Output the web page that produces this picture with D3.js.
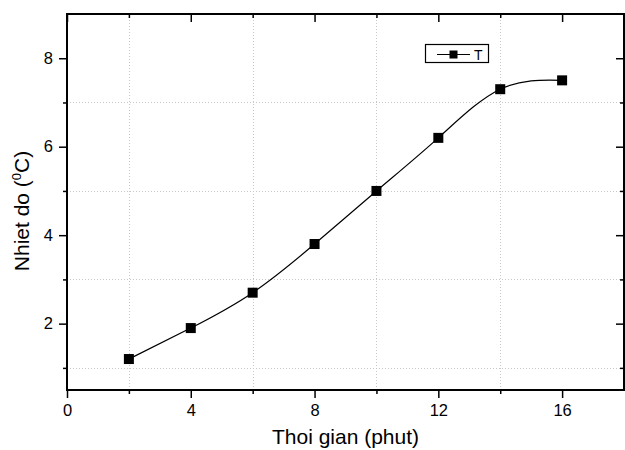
<!DOCTYPE html>
<html>
<head>
<meta charset="utf-8">
<script src="https://cdn.jsdelivr.net/npm/d3@7"></script>
<style>
  html, body { margin: 0; padding: 0; background: #fff; }
  svg { display: block; font-family: "Liberation Sans", Arial, sans-serif; }
</style>
</head>
<body>
<svg id="chart" width="625" height="450"></svg>
<script>
const timeMinutes = [2, 4, 6, 8, 10, 12, 14, 16];
const temperatureT = [1.2, 1.9, 2.7, 3.8, 5.0, 6.2, 7.3, 7.5];
const seriesName = "T";
const xMajorTicks = [0, 4, 8, 12, 16];
const xMinorTicks = [2, 6, 10, 14];
const yMajorTicks = [2, 4, 6, 8];
const yMinorTicks = [1, 3, 5, 7];
const xTitle = "Thoi gian (phut)";

const svg = d3.select("#chart");
const L = 67, R = 624, T = 14, B = 390;
const x = d3.scaleLinear().domain([0, 18]).range([L, R]);
const y = d3.scaleLinear().domain([0.5, 9]).range([B, T]);

// grid (dotted, at minor ticks)
const grid = svg.append("g").attr("stroke", "#c8c8c8").attr("stroke-width", 1).attr("stroke-dasharray", "1,2");
grid.selectAll("line.gx").data(xMinorTicks).join("line")
  .attr("x1", d => Math.round(x(d)) + 0.5).attr("x2", d => Math.round(x(d)) + 0.5)
  .attr("y1", T).attr("y2", B);
grid.selectAll("line.gy").data(yMinorTicks).join("line")
  .attr("y1", d => Math.round(y(d)) + 0.5).attr("y2", d => Math.round(y(d)) + 0.5)
  .attr("x1", L).attr("x2", R);

function styleAxis(g) {
  g.selectAll(".domain").remove();
  g.selectAll(".tick line").attr("stroke", "#000").attr("stroke-width", 1.5);
  g.selectAll(".tick text").attr("fill", "#000").attr("font-size", 16.5)
    .attr("font-family", "'Liberation Sans', Arial, sans-serif");
}

// bottom axis
svg.append("g").attr("transform", `translate(0,${B})`)
  .call(d3.axisBottom(x).tickValues(xMajorTicks).tickSize(8).tickPadding(6).tickFormat(d3.format("d")))
  .call(styleAxis);
svg.append("g").attr("transform", `translate(0,${B})`)
  .call(d3.axisBottom(x).tickValues(xMinorTicks).tickSize(4).tickFormat(""))
  .call(styleAxis);
// top axis (inward)
svg.append("g").attr("transform", `translate(0,${T})`)
  .call(d3.axisBottom(x).tickValues(xMajorTicks).tickSize(8).tickFormat(""))
  .call(styleAxis);
svg.append("g").attr("transform", `translate(0,${T})`)
  .call(d3.axisBottom(x).tickValues(xMinorTicks).tickSize(4).tickFormat(""))
  .call(styleAxis);
// left axis
svg.append("g").attr("transform", `translate(${L},0)`)
  .call(d3.axisLeft(y).tickValues(yMajorTicks).tickSize(8).tickPadding(6).tickFormat(d3.format("d")))
  .call(styleAxis);
svg.append("g").attr("transform", `translate(${L},0)`)
  .call(d3.axisLeft(y).tickValues(yMinorTicks).tickSize(4).tickFormat(""))
  .call(styleAxis);
// right axis (inward)
svg.append("g").attr("transform", `translate(${R},0)`)
  .call(d3.axisLeft(y).tickValues(yMajorTicks).tickSize(8).tickFormat(""))
  .call(styleAxis);
svg.append("g").attr("transform", `translate(${R},0)`)
  .call(d3.axisLeft(y).tickValues(yMinorTicks).tickSize(4).tickFormat(""))
  .call(styleAxis);

// frame
svg.append("rect").attr("x", L).attr("y", T).attr("width", R - L).attr("height", B - T)
  .attr("fill", "none").attr("stroke", "#000").attr("stroke-width", 2);

// line
const pts = timeMinutes.map((t, i) => [t, temperatureT[i]]);
svg.append("path").datum(pts)
  .attr("fill", "none").attr("stroke", "#000").attr("stroke-width", 1.2)
  .attr("d", d3.line().x(d => x(d[0])).y(d => y(d[1])).curve(d3.curveNatural));
const ms = 10;
svg.append("g").selectAll("rect").data(pts).join("rect")
  .attr("x", d => x(d[0]) - ms / 2).attr("y", d => y(d[1]) - ms / 2)
  .attr("width", ms).attr("height", ms).attr("fill", "#000");

// legend
const lg = svg.append("g");
lg.append("rect").attr("x", 425.5).attr("y", 44.5).attr("width", 63).attr("height", 18)
  .attr("fill", "#fff").attr("stroke", "#000").attr("stroke-width", 1.2);
lg.append("line").attr("x1", 437).attr("x2", 470).attr("y1", 54.5).attr("y2", 54.5)
  .attr("stroke", "#000").attr("stroke-width", 1.2);
lg.append("rect").attr("x", 449.5).attr("y", 50.5).attr("width", 8).attr("height", 8).attr("fill", "#000");
lg.append("text").attr("x", 474).attr("y", 60).attr("font-size", 14).attr("fill", "#000").text(seriesName);

// axis titles
svg.append("text").attr("x", (L + R) / 2).attr("y", 444).attr("text-anchor", "middle")
  .attr("font-size", 21).attr("fill", "#000").text(xTitle);
const yt = svg.append("text").attr("transform", "translate(29,211) rotate(-90)")
  .attr("text-anchor", "middle").attr("font-size", 21).attr("fill", "#000");
yt.append("tspan").text("Nhiet do (");
yt.append("tspan").attr("font-size", 13).attr("dy", -8).text("0");
yt.append("tspan").attr("dy", 8).text("C)");
</script>
</body>
</html>
